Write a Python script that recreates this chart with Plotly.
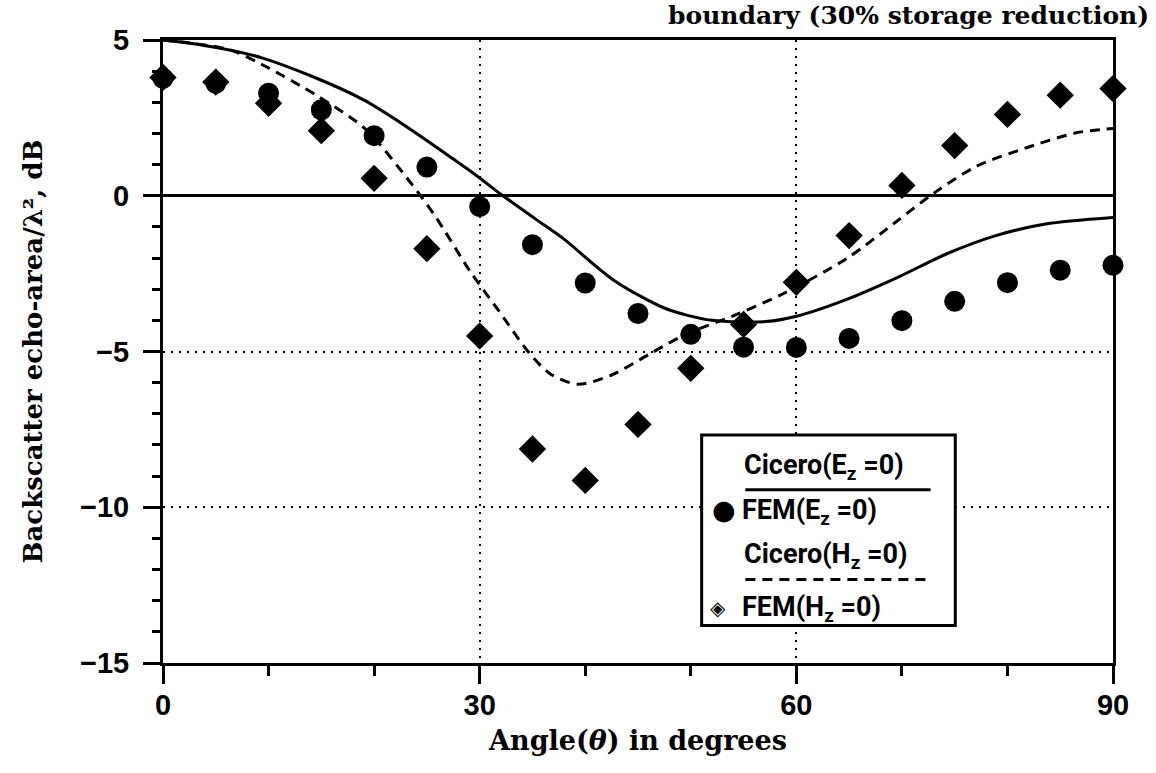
import plotly.graph_objects as go

# ---------------- data ----------------
angles_fem = [0, 5, 10, 15, 20, 25, 30, 35, 40, 45, 50, 55, 60, 65, 70, 75, 80, 85, 90]
fem_e = [3.77, 3.61, 3.29, 2.76, 1.93, 0.92, -0.35, -1.57, -2.80, -3.78, -4.45, -4.86,
         -4.87, -4.58, -4.01, -3.39, -2.79, -2.39, -2.23]
fem_h = [3.80, 3.65, 2.97, 2.09, 0.56, -1.70, -4.50, -8.13, -9.14, -7.34, -5.54, -4.13,
         -2.78, -1.28, 0.33, 1.61, 2.61, 3.23, 3.44]

cic_e_x = [0, 3.1, 9.45, 19.0, 28.75, 32.2, 35.3, 37.9, 42.7, 47.6, 52.0, 57.1, 60.2,
           64.9, 69.6, 74.2, 78.9, 83.6, 90]
cic_e_y = [5.0, 4.87, 4.42, 3.08, 0.88, 0.0, -0.75, -1.37, -2.71, -3.62, -4.0, -4.04, -3.85,
           -3.31, -2.62, -1.87, -1.28, -0.91, -0.70]

cic_h_x = [0, 6.3, 9.5, 14.7, 19.15, 23.5, 25.8, 29.1, 31.8, 34.7, 36.7, 39.3, 42.4, 46.1,
           49.5, 53.9, 58.6, 64.8, 69.4, 73.1, 77.1, 81.8, 86.5, 90]
cic_h_y = [5.0, 4.69, 4.19, 3.19, 2.15, 0.40, -0.66, -2.43, -3.69, -5.05, -5.72, -6.05, -5.77,
           -5.08, -4.45, -3.87, -3.17, -2.01, -0.85, 0.10, 0.95, 1.54, 2.02, 2.16]

x_ticks = [0, 30, 60, 90]
y_ticks = [5, 0, -5, -10, -15]

title_text = "boundary (30% storage reduction)"
x_title = "Angle(<i>θ</i>) in degrees"
y_title = "Backscatter echo-area/λ², dB"
legend_labels = ["Cicero(E<sub>z</sub>\u00a0=0)", "FEM(E<sub>z</sub>\u00a0=0)",
                 "Cicero(H<sub>z</sub>\u00a0=0)", "FEM(H<sub>z</sub>\u00a0=0)"]

SERIF = "DejaVu Serif, Liberation Serif, serif"
SANS = "Liberation Sans, Arial, sans-serif"
NARROW = "Roboto, Liberation Sans, sans-serif"

fig = go.Figure()

fig.add_trace(go.Scatter(x=cic_e_x, y=cic_e_y, mode="lines", name="Cicero(Ez=0)",
                         line=dict(color="black", width=3, shape="spline", smoothing=0.8),
                         showlegend=False))
fig.add_trace(go.Scatter(x=cic_h_x, y=cic_h_y, mode="lines", name="Cicero(Hz=0)",
                         line=dict(color="black", width=3, dash="10px,7px", shape="spline",
                                   smoothing=0.8),
                         showlegend=False))
fig.add_trace(go.Scatter(x=angles_fem, y=fem_h, mode="markers", name="FEM(Hz=0)",
                         marker=dict(symbol="diamond", size=21, color="black"),
                         showlegend=False, cliponaxis=False))
fig.add_trace(go.Scatter(x=angles_fem, y=fem_e, mode="markers", name="FEM(Ez=0)",
                         marker=dict(symbol="circle", size=21, color="black"),
                         showlegend=False, cliponaxis=False))

axis_common = dict(
    showline=True, linecolor="black", linewidth=3, mirror=True,
    showgrid=True, gridcolor="black", gridwidth=2, griddash="2px,6px",
    ticks="outside", tickcolor="black", tickwidth=2.5,
    tickfont=dict(family=SANS, size=29, color="black", weight="bold"),
)

fig.update_xaxes(
    range=[0, 90], tickvals=x_ticks, ticklen=18, zeroline=False,
    ticklabelstandoff=-4,
    minor=dict(tickvals=[10, 20, 40, 50, 70, 80], ticks="outside", ticklen=10,
               tickwidth=2.5, tickcolor="black", showgrid=False),
    title=dict(text=x_title, font=dict(family=SERIF, size=27, color="black", weight="bold"),
               standoff=12),
    **axis_common,
)
fig.update_yaxes(
    range=[-15, 5], tickvals=y_ticks, ticklen=17,
    zeroline=True, zerolinecolor="black", zerolinewidth=2.8,
    ticklabelstandoff=8,
    minor=dict(dtick=1, ticks="outside", ticklen=8, tickwidth=2.5, tickcolor="black",
               showgrid=False),
    title=dict(text=y_title, font=dict(family=SERIF, size=26, color="black", weight="bold"),
               standoff=30),
    **axis_common,
)

# ---------- custom legend box (reference style: sample lines under the text) ----------
bx0, bx1, by0, by1 = 0.567, 0.834, 0.060, 0.366
fig.add_shape(type="rect", xref="paper", yref="paper", x0=bx0, x1=bx1, y0=by0, y1=by1,
              line=dict(color="black", width=3), fillcolor="white", layer="above")
fig.add_shape(type="line", xref="paper", yref="paper", x0=0.613, x1=0.808, y0=0.278, y1=0.278,
              line=dict(color="black", width=3), layer="above")
fig.add_shape(type="line", xref="paper", yref="paper", x0=0.613, x1=0.808, y0=0.134, y1=0.134,
              line=dict(color="black", width=3, dash="10px,7px"), layer="above")

leg_font = dict(family=NARROW, size=27, color="black", weight="bold")
rows = [(0.609, 0.314, legend_labels[0]), (0.607, 0.242, legend_labels[1]),
        (0.609, 0.171, legend_labels[2]), (0.607, 0.086, legend_labels[3])]
for lx, ly, txt in rows:
    fig.add_annotation(xref="paper", yref="paper", x=lx, y=ly, text=txt, showarrow=False,
                       xanchor="left", yanchor="middle", font=leg_font)
fig.add_annotation(xref="paper", yref="paper", x=0.590, y=0.246, text="●", showarrow=False,
                   xanchor="center", yanchor="middle",
                   font=dict(family="DejaVu Sans", size=27, color="black"))
fig.add_annotation(xref="paper", yref="paper", x=0.584, y=0.089, text="◈", showarrow=False,
                   xanchor="center", yanchor="middle",
                   font=dict(family="DejaVu Sans", size=20, color="black"))

# ---------- title at the top (cut off in the reference scan) ----------
fig.add_annotation(xref="paper", yref="paper", x=1.04, y=1.0, yshift=41, text=title_text,
                   showarrow=False, xanchor="right", yanchor="top",
                   font=dict(family=SERIF, size=25, color="black", weight="bold"))

fig.update_layout(
    width=1156, height=773,
    margin=dict(l=163, r=43, t=40, b=110),
    paper_bgcolor="white", plot_bgcolor="white",
    showlegend=False,
)

fig.write_html("out.html")
